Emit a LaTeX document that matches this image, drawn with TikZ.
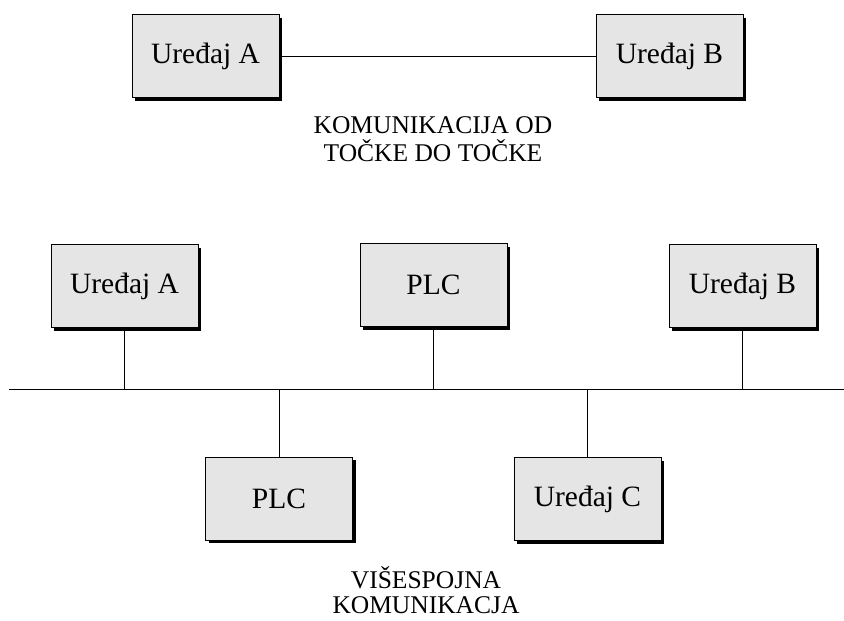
\documentclass[tikz,border=0pt]{standalone}
\usepackage{fontspec}
\setmainfont{Liberation Serif}
\usetikzlibrary{shadows}
\definecolor{boxgray}{HTML}{E5E5E5}
\tikzset{>=stealth}
\tikzset{unit/.style={draw, line width=1pt, fill=boxgray, minimum width=147pt, minimum height=83pt, inner sep=0pt,
    font=\fontsize{29.5}{34}\selectfont,
    drop shadow={shadow xshift=3pt, shadow yshift=-3pt, fill=black, opacity=1}},
  caption/.style={font=\fontsize{25.5}{28}\selectfont, inner sep=0pt, anchor=base},
  wire/.style={line width=1pt}}

\begin{document}
\begin{tikzpicture}[x=1pt, y=-1pt]
    \useasboundingbox (0,0) rectangle (844,621);
    \node[unit] (A) at (205.5,56) {Uređaj A};
    \node[unit] (B) at (669.5,56) {Uređaj B};
    \draw[wire] (A) -- (B);
    \node[caption] (T1) at (433,133) {KOMUNIKACIJA OD};
    \node[caption] (T2) at (433,161) {TOČKE DO TOČKE};
    \coordinate (L) at (9,389);
    \coordinate (R) at (844,389);
    \draw[wire] (L) -- (R);
    \node[unit] (A2) at (124.5,286) {Uređaj A};
    \node[unit] (P2) at (433.5,285) {PLC};
    \node[unit] (B2) at (742.5,286) {Uređaj B};
    \node[unit] (P3) at (279,498.5) {PLC};
    \node[unit] (C3) at (587.5,499) {Uređaj C};
    \foreach \n in {A2,P2,B2,P3,C3}
    \draw[wire] (\n) -- (\n |- L);
    \node[caption] (V1) at (426,588) {VIŠESPOJNA};
    \node[caption] (V2) at (426,613.5) {KOMUNIKACJA};
\end{tikzpicture}
\end{document}
